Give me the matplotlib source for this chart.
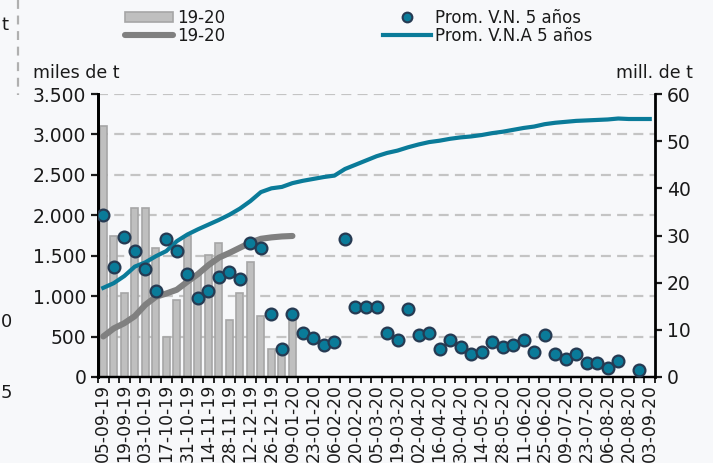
import matplotlib
matplotlib.use("Agg")
import matplotlib.pyplot as plt
import numpy as np
from matplotlib.lines import Line2D
from matplotlib.patches import Patch

plt.rcParams['font.family'] = ['DejaVu Sans']

# weekly categories
weeks = ['05-09-19', '12-09-19', '19-09-19', '26-09-19', '03-10-19', '10-10-19', '17-10-19',
         '24-10-19', '31-10-19', '07-11-19', '14-11-19', '21-11-19', '28-11-19', '05-12-19',
         '12-12-19', '19-12-19', '26-12-19', '02-01-20', '09-01-20', '16-01-20', '23-01-20',
         '30-01-20', '06-02-20', '13-02-20', '20-02-20', '27-02-20', '05-03-20', '12-03-20',
         '19-03-20', '26-03-20', '02-04-20', '09-04-20', '16-04-20', '23-04-20', '30-04-20',
         '07-05-20', '14-05-20', '21-05-20', '28-05-20', '04-06-20', '11-06-20', '18-06-20',
         '25-06-20', '02-07-20', '09-07-20', '16-07-20', '23-07-20', '30-07-20', '06-08-20',
         '13-08-20', '20-08-20', '27-08-20', '03-09-20']

# 19-20 weekly (miles de t)
vn_1920 = [3110, 1740, 1040, 2090, 2090, 1600, 490, 955, 1740, 1280, 1510, 1660, 700,
           1045, 1420, 755, 350, 380, 745]
# 19-20 cumulative (mill. de t)
vna_1920 = [8.6, 10.3, 11.4, 12.9, 15.3, 17.0, 17.7, 18.5, 20.2, 21.8, 23.7, 25.3, 26.3,
            27.4, 28.5, 29.3, 29.6, 29.8, 29.9]
# Prom. V.N. 5 años (miles de t)
vn_prom = [2000, 1360, 1735, 1558, 1332, 1067, 1710, 1558, 1274, 981, 1067, 1240, 1298,
           1212, 1653, 1591, 775, 350, 775, 548, 486, 396, 429, 1707, 862, 862, 862, 548,
           458, 837, 515, 548, 343, 458, 375, 284, 313, 429, 375, 396, 458, 313, 515, 284,
           226, 284, 169, 169, 115, 198, np.nan, 83, np.nan]
# Prom. V.N.A 5 años (mill. de t)
vna_prom = [18.9, 19.9, 21.4, 23.4, 24.3, 25.6, 26.7, 28.8, 30.2, 31.3, 32.3, 33.3, 34.4,
            35.7, 37.3, 39.2, 40.0, 40.3, 41.1, 41.6, 42.0, 42.4, 42.7, 44.1, 45.0, 45.9,
            46.8, 47.5, 48.0, 48.7, 49.3, 49.8, 50.1, 50.5, 50.8, 51.0, 51.3, 51.7, 52.0,
            52.4, 52.8, 53.1, 53.6, 53.9, 54.1, 54.3, 54.4, 54.5, 54.6, 54.8, 54.7, 54.7, 54.7]

left_ticks = [0, 500, 1000, 1500, 2000, 2500, 3000, 3500]
left_labels = ['0', '500', '1.000', '1.500', '2.000', '2.500', '3.000', '3.500']
right_ticks = [0, 10, 20, 30, 40, 50, 60]

bg = '#f7f8fa'
teal = '#0a7b99'
txt = '#1a1a1a'

fig = plt.figure(figsize=(7.13, 4.63), dpi=100, facecolor=bg)
ax = fig.add_axes([98/713, 1-377/463, 557/713, 283/463])
ax.set_facecolor(bg)
x = np.arange(len(weeks))

ax.bar(x[:len(vn_1920)], vn_1920, width=0.65, color='#bfbfbf', edgecolor='#a6a6a6', linewidth=1.2)
ax.set_ylim(0, 3500)
ax.set_xlim(-0.5, len(weeks) - 0.5)
ax.set_yticks(left_ticks)
ax.set_yticklabels(left_labels)
ax.yaxis.grid(True, color='#c4c4c4', linestyle=(0, (4.5, 2.8)), linewidth=1.6)
ax.set_axisbelow(True)

ax2 = ax.twinx()
ax2.plot(x[:len(vna_1920)], vna_1920, color='#808080', linewidth=4.4, solid_capstyle='round')
ax2.plot(x, vna_prom, color=teal, linewidth=3.0)
ax2.set_ylim(0, 60)
ax2.set_yticks(right_ticks)

ax3 = ax.twinx()
ax3.plot(x, vn_prom, 'o', color=teal, markersize=8.5, markeredgecolor='#263a52', markeredgewidth=1.6)
ax3.set_ylim(0, 3500)
ax3.set_yticks([])
for s in ax3.spines.values():
    s.set_visible(False)

ax.set_xticks(x[::2])
ax.set_xticklabels(weeks[::2], rotation=90, fontsize=12.3, color=txt)
ax.set_xticks(np.arange(-0.5, len(weeks)), minor=True)
ax.tick_params(axis='x', which='major', length=0, pad=5)
ax.tick_params(axis='x', which='minor', length=4, width=1.2)
ax.tick_params(axis='y', length=5, width=1.6, labelsize=13.5, colors=txt)
ax2.tick_params(axis='y', length=5, width=1.6, labelsize=13.5, colors=txt)

for a in (ax, ax2):
    a.spines['top'].set_visible(False)
    a.spines['left'].set_linewidth(2)
    a.spines['right'].set_linewidth(2)
    a.spines['bottom'].set_linewidth(1.6)
ax.spines['right'].set_visible(False)

fig.text(33/713, 1-73/463, 'miles de t', fontsize=12.5, color=txt, va='center')
fig.text(693/713, 1-73/463, 'mill. de t', fontsize=12.5, color=txt, va='center', ha='right')

# pieces of the neighbouring chart at the left edge
fig.text(1/713, 1-25/463, 't', fontsize=13, color=txt, va='center')
fig.text(1/713, 1-322/463, '0', fontsize=13, color=txt, va='center')
fig.text(1/713, 1-393/463, '5', fontsize=13, color=txt, va='center')
fig.add_artist(Line2D([18/713, 18/713], [1.0, 1-95/463], transform=fig.transFigure,
                      color='#b0b0b0', linestyle=(0, (4, 3)), linewidth=1.6))

handles = [Patch(facecolor='#bfbfbf', edgecolor='#a6a6a6', linewidth=1.2),
           Line2D([], [], color='#808080', linewidth=4.4, solid_capstyle='round'),
           Line2D([], [], marker='o', linestyle='none', color=teal, markersize=7,
                  markeredgecolor='#263a52', markeredgewidth=1.5),
           Line2D([], [], color=teal, linewidth=3.0)]
labels = ['19-20', '19-20', 'Prom. V.N. 5 años', 'Prom. V.N.A 5 años']
fig.legend(handles, labels, ncol=2, loc='upper left', bbox_to_anchor=(125/713, 1-9/463),
           frameon=False, fontsize=12, handlelength=2.85, handleheight=0.6,
           handletextpad=0.25, columnspacing=9.5, labelspacing=0.0, borderpad=0,
           borderaxespad=0, labelcolor=txt)

fig.savefig('out.png', dpi=100, facecolor=bg)
